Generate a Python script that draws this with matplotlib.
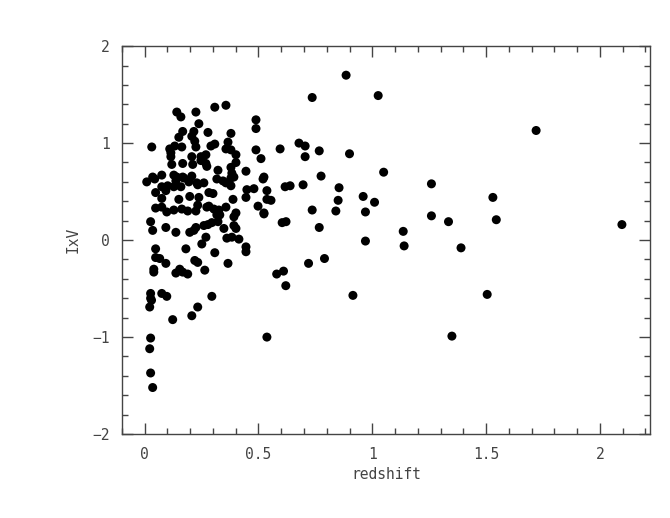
import matplotlib
matplotlib.use("Agg")
import matplotlib.pyplot as plt
from matplotlib.ticker import MultipleLocator

# redshift / IxV values
z = [0.141, 0.159, 0.225, 0.238, 0.308, 0.357, 0.489, 0.489, 0.167, 0.216,
     0.278, 0.379, 0.150, 0.207, 0.220, 0.366, 0.031, 0.132, 0.110, 0.291,
     0.308, 0.357, 0.379, 0.489, 0.163, 0.225,
     0.115, 0.207, 0.247, 0.401, 0.511, 0.269, 0.119, 0.167, 0.211, 0.247,
     0.269, 0.401, 0.273, 0.322, 0.379, 0.383, 0.445, 0.524, 0.075, 0.035,
     0.128, 0.167, 0.207, 0.317, 0.344, 0.379, 0.392, 0.009, 0.044, 0.137,
     0.172, 0.194, 0.233, 0.260, 0.101, 0.128, 0.159, 0.075, 0.379, 0.357,
     0.520, 0.115, 0.141, 0.194, 0.229,
     0.048, 0.093, 0.150, 0.198, 0.282, 0.300, 0.449, 0.480, 0.537, 0.388,
     0.445, 0.537, 0.555, 0.238, 0.075, 0.282, 0.304, 0.326, 0.357, 0.498,
     0.401, 0.524, 0.048, 0.075, 0.097, 0.128, 0.163, 0.189, 0.233, 0.225,
     0.273, 0.330, 0.392,
     0.026, 0.035, 0.093, 0.137, 0.198, 0.216, 0.225, 0.278, 0.295, 0.322,
     0.348, 0.392, 0.401, 0.361, 0.383, 0.414, 0.269, 0.251, 0.260, 0.048,
     0.181, 0.308, 0.445, 0.445, 0.048, 0.066, 0.093, 0.220, 0.233, 0.366,
     0.040, 0.040, 0.154, 0.137, 0.167, 0.189, 0.264, 0.317, 0.604, 0.621,
     0.524,
     0.026, 0.075, 0.097, 0.295, 0.026, 0.022, 0.233, 0.123, 0.207, 0.026,
     0.022, 0.026, 0.035, 0.537, 0.030,
     0.885, 0.736, 1.026, 0.595, 0.678, 0.705, 0.705, 0.767, 0.900, 1.050,
     0.775, 0.617, 0.639, 0.696, 0.854, 0.960, 0.850, 1.010, 0.736, 0.840,
     0.970, 1.260, 1.260, 1.335, 0.767, 1.136, 0.970, 1.140, 1.390, 0.720,
     0.790, 0.580, 0.610, 0.620, 0.915, 1.350, 1.720, 1.530, 1.545, 2.097,
     1.505]
ixv = [1.32, 1.27, 1.32, 1.20, 1.37, 1.39, 1.24, 1.15, 1.12, 1.12,
       1.11, 1.10, 1.06, 1.07, 1.02, 1.01, 0.96, 0.97, 0.94, 0.97,
       0.99, 0.94, 0.93, 0.93, 0.96, 0.96,
       0.86, 0.86, 0.86, 0.88, 0.84, 0.88, 0.78, 0.79, 0.78, 0.82,
       0.79, 0.80, 0.76, 0.72, 0.75, 0.69, 0.71, 0.65, 0.67, 0.65,
       0.67, 0.65, 0.66, 0.63, 0.61, 0.64, 0.65, 0.60, 0.63, 0.61,
       0.64, 0.60, 0.57, 0.59, 0.56, 0.55, 0.55, 0.55, 0.56, 0.59,
       0.63, 0.90, 0.65, 0.62, 0.59,
       0.49, 0.51, 0.42, 0.45, 0.49, 0.48, 0.52, 0.53, 0.51, 0.42,
       0.44, 0.42, 0.41, 0.44, 0.43, 0.35, 0.32, 0.31, 0.34, 0.35,
       0.28, 0.28, 0.33, 0.34, 0.29, 0.31, 0.32, 0.30, 0.36, 0.30,
       0.34, 0.26, 0.24,
       0.19, 0.10, 0.13, 0.08, 0.08, 0.10, 0.13, 0.16, 0.18, 0.19,
       0.12, 0.15, 0.12, 0.02, 0.03, 0.01, 0.03, -0.04, 0.15, -0.09,
       -0.09, -0.13, -0.07, -0.12, -0.18, -0.19, -0.24, -0.21, -0.23, -0.24,
       -0.30, -0.33, -0.30, -0.34, -0.33, -0.35, -0.31, 0.26, 0.18, 0.19,
       0.27,
       -0.55, -0.55, -0.58, -0.58, -0.60, -0.69, -0.69, -0.82, -0.78, -1.01,
       -1.12, -1.37, -1.52, -1.00, -0.62,
       1.70, 1.47, 1.49, 0.94, 1.00, 0.97, 0.86, 0.92, 0.89, 0.70,
       0.66, 0.55, 0.56, 0.57, 0.54, 0.45, 0.41, 0.39, 0.31, 0.30,
       0.29, 0.58, 0.25, 0.19, 0.13, 0.09, -0.01, -0.06, -0.08, -0.24,
       -0.19, -0.35, -0.32, -0.47, -0.57, -0.99, 1.13, 0.44, 0.21, 0.16,
       -0.56]

plt.rcParams['font.family'] = ['DejaVu Sans Mono']
fig = plt.figure(figsize=(6.70, 5.18), dpi=100)
ax = fig.add_axes([0.182, 0.162, 0.788, 0.749])

ax.scatter(z, ixv, s=42, c='black', edgecolors='none')

ax.set_xlim(-0.1, 2.22)
ax.set_ylim(-2, 2)
ax.xaxis.set_major_locator(MultipleLocator(0.5))
ax.xaxis.set_minor_locator(MultipleLocator(0.1))
ax.yaxis.set_major_locator(MultipleLocator(1))
ax.yaxis.set_minor_locator(MultipleLocator(0.2))
ax.set_xticks([0, 0.5, 1, 1.5, 2])
ax.set_xticklabels(['0', '0.5', '1', '1.5', '2'])
ax.set_yticks([-2, -1, 0, 1, 2])
ax.set_yticklabels(['\u22122', '\u22121', '0', '1', '2'])

ax.tick_params(which='both', direction='in', top=True, right=True,
               color='#444444', labelcolor='#444444', labelsize=10.5)
ax.tick_params(which='major', length=8, width=1, pad=9)
ax.tick_params(which='minor', length=4, width=1)
for s in ax.spines.values():
    s.set_color('#444444')
    s.set_linewidth(1)

ax.set_xlabel('redshift', fontsize=10.5, color='#444444', labelpad=4)
ax.set_ylabel('IxV', fontsize=10.5, color='#444444', labelpad=8)

fig.savefig('out.png', dpi=100)
